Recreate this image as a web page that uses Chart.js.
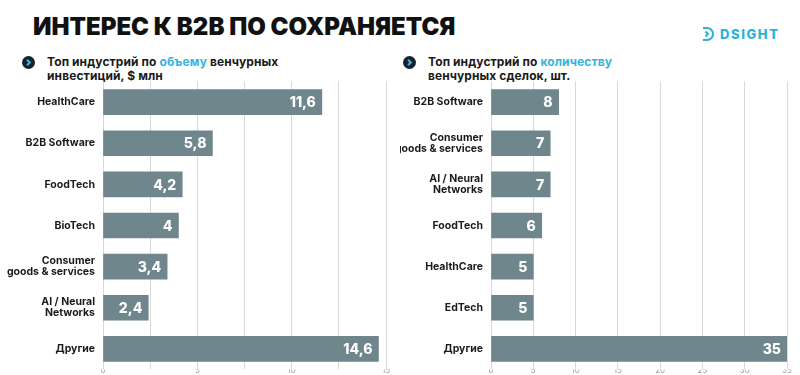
<!DOCTYPE html>
<html>
<head>
<meta charset="utf-8">
<script src="https://cdn.jsdelivr.net/npm/chart.js@4"></script>
<style>
  body { margin: 0; width: 800px; height: 375px; background: #fff; overflow: hidden; font-family: Inter, "DejaVu Sans", sans-serif; position: relative; }
  #title { position: absolute; left: 33px; top: 12px; font-size: 24px; font-weight: 900; color: #111; letter-spacing: 0px; white-space: nowrap; }
  #logo { position: absolute; left: 702px; top: 26px; display: flex; align-items: center; color: #2bb3d4; font-weight: 800; font-size: 13px; letter-spacing: 1.6px; }
  .sub { position: absolute; font-size: 12px; font-weight: 700; color: #1a1a1a; line-height: 14px; letter-spacing: 0.1px; }
  .sub span { color: #35b4dd; }
  .bullet { position: absolute; }
  .wrap { position: absolute; top: 68px; width: 400px; height: 315px; }
</style>
</head>
<body>
<div id="title">ИНТЕРЕС К B2B ПО СОХРАНЯЕТСЯ</div>
<div id="logo">
  <svg width="12" height="14" viewBox="0 0 12 14" style="margin-right:6px">
    <path d="M1 1 H5 A6 6 0 0 1 5 13 H1" fill="none" stroke="#2bb3d4" stroke-width="2"/>
    <path d="M3.5 4.5 L6 7 L3.5 9.5" fill="none" stroke="#2bb3d4" stroke-width="2"/>
  </svg>DSIGHT
</div>

<svg class="bullet" style="left:22px;top:56px" width="13" height="13" viewBox="0 0 13 13">
  <circle cx="6.5" cy="6.5" r="6.5" fill="#16212b"/>
  <path d="M5 3.8 L7.8 6.5 L5 9.2" fill="none" stroke="#37b7e3" stroke-width="2"/>
</svg>
<div class="sub" style="left:47px;top:55px">Топ индустрий по <span>объему</span> венчурных<br>инвестиций, $ млн</div>

<svg class="bullet" style="left:403px;top:56px" width="13" height="13" viewBox="0 0 13 13">
  <circle cx="6.5" cy="6.5" r="6.5" fill="#16212b"/>
  <path d="M5 3.8 L7.8 6.5 L5 9.2" fill="none" stroke="#37b7e3" stroke-width="2"/>
</svg>
<div class="sub" style="left:428px;top:55px">Топ индустрий по <span>количеству</span><br>венчурных сделок, шт.</div>

<div class="wrap" style="left:0px"><canvas id="chartLeft"></canvas></div>
<div class="wrap" style="left:400px"><canvas id="chartRight"></canvas></div>

<script>
// левый график: объем инвестиций, $ млн
var volumeLabels = ['HealthCare', 'B2B Software', 'FoodTech', 'BioTech',
  ['Consumer', 'goods & services'], ['AI / Neural', 'Networks'], 'Другие'];
var volumeValues = [11.6, 5.8, 4.2, 4, 3.4, 2.4, 14.6];
var volumeTicks = [0, 5, 10, 15];

// правый график: количество сделок, шт.
var dealsLabels = ['B2B Software', ['Consumer', 'goods & services'], ['AI / Neural', 'Networks'],
  'FoodTech', 'HealthCare', 'EdTech', 'Другие'];
var dealsValues = [8, 7, 7, 6, 5, 5, 35];
var dealsTicks = [0, 5, 10, 15, 20, 25, 30, 35];

var barColor = '#6f878c';

var valueLabels = {
  id: 'valueLabels',
  afterDatasetsDraw: function(chart) {
    var ctx = chart.ctx;
    var meta = chart.getDatasetMeta(0);
    ctx.save();
    ctx.fillStyle = '#fff';
    ctx.font = '800 14px Inter, "DejaVu Sans", sans-serif';
    ctx.textAlign = 'right';
    ctx.textBaseline = 'middle';
    meta.data.forEach(function(bar, i) {
      var v = chart.data.datasets[0].data[i];
      ctx.fillText(String(v).replace('.', ','), bar.x - 6, bar.y + 1);
    });
    ctx.restore();
  }
};

function makeChart(id, labels, values, ticks, max, step, axisWidth, padRight) {
  var ctx = document.getElementById(id).getContext('2d');
  return new Chart(ctx, {
    type: 'bar',
    data: {
      labels: labels,
      datasets: [{
        data: values,
        backgroundColor: barColor,
        barThickness: 25
      }]
    },
    options: {
      indexAxis: 'y',
      responsive: true,
      maintainAspectRatio: false,
      animation: false,
      layout: { padding: { top: 4, right: padRight, left: 0, bottom: 0 } },
      plugins: { legend: { display: false }, tooltip: { enabled: false } },
      scales: {
        x: {
          min: 0,
          max: max,
          border: { display: false },
          grid: { color: '#d8d8d8', lineWidth: 1, drawTicks: false },
          ticks: {
            stepSize: step,
            padding: -4,
            color: '#9a9a9a',
            font: { size: 8, family: 'Inter' },
            callback: function(v) { return ticks.indexOf(v) >= 0 ? v : ''; }
          },
          afterFit: function(scale) { scale.height = 6; }
        },
        y: {
          border: { display: false },
          grid: { display: false, drawTicks: false },
          ticks: {
            padding: 8,
            color: '#1a1a1a',
            font: { size: 10.5, weight: '700', family: 'Inter', lineHeight: 1.05 }
          },
          afterFit: function(scale) { scale.width = axisWidth; }
        }
      }
    },
    plugins: [valueLabels]
  });
}

// пунктирная сетка
Chart.defaults.scale.grid.borderDash = [1, 2];

makeChart('chartLeft', volumeLabels, volumeValues, volumeTicks, 15, 2.5, 103, 14);
makeChart('chartRight', dealsLabels, dealsValues, dealsTicks, 35, 5, 91, 13);
</script>
</body>
</html>
